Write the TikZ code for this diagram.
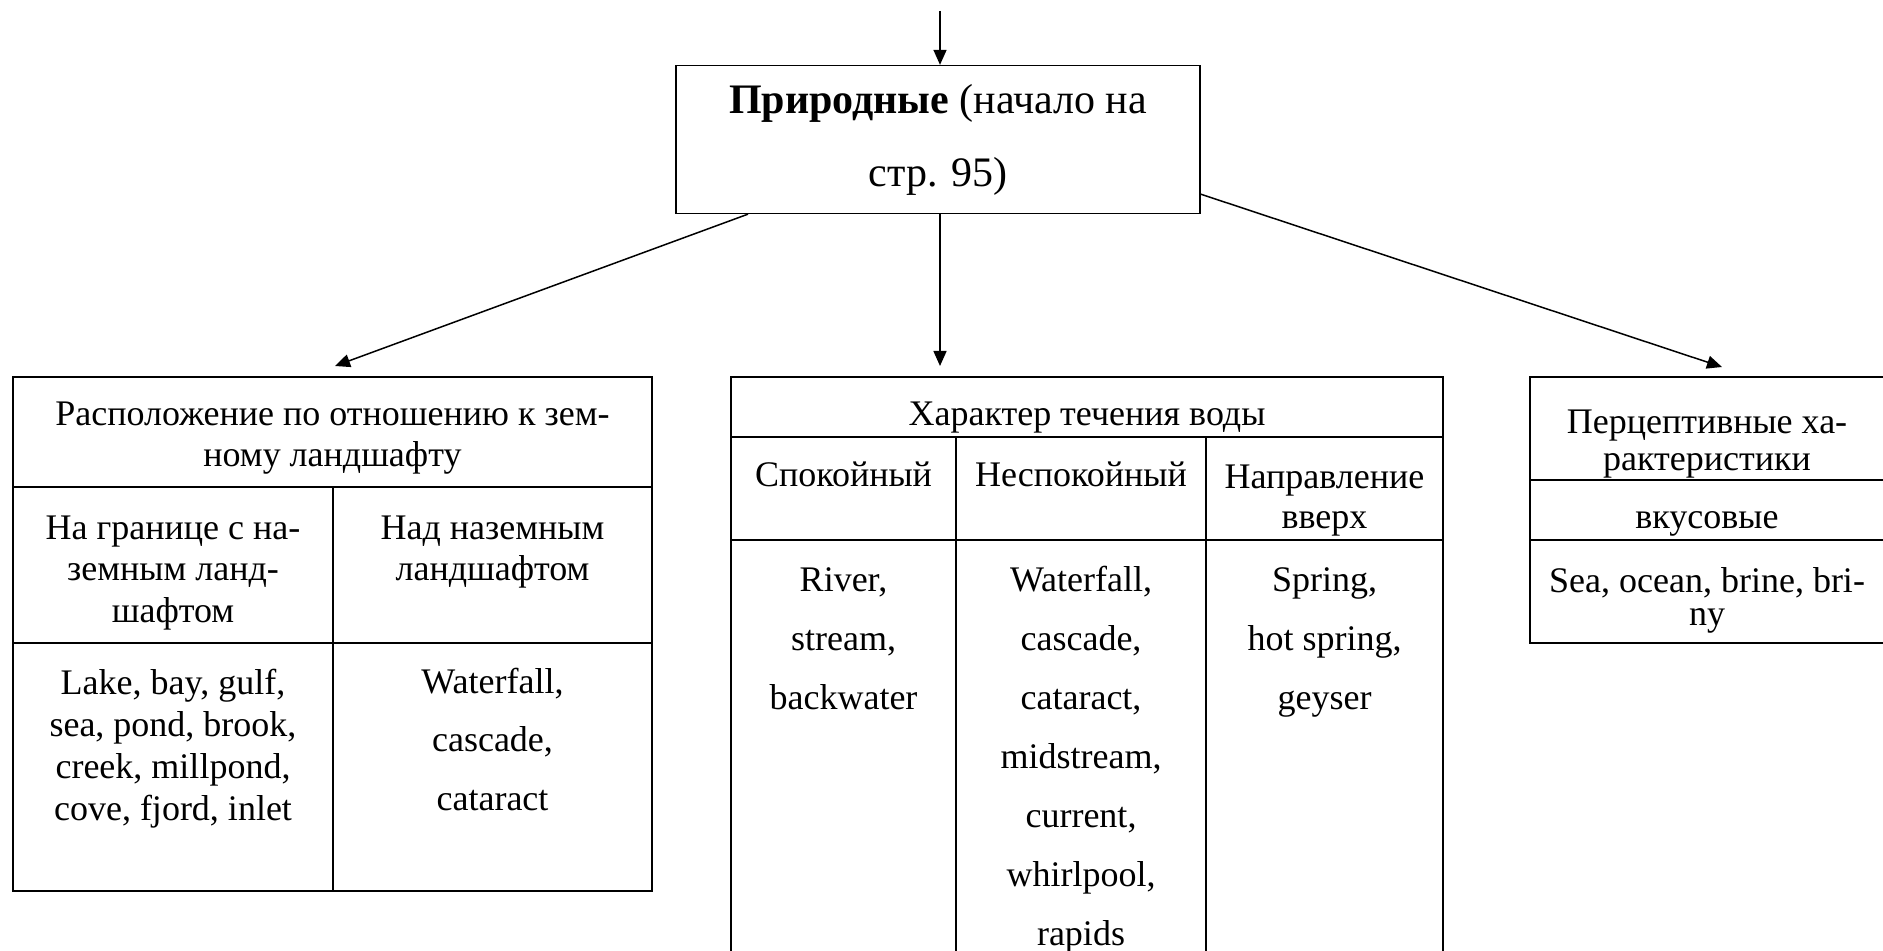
\documentclass[tikz,border=0pt]{standalone}
\usepackage{fontspec}
\setmainfont{Liberation Serif}
\usetikzlibrary{arrows.meta,calc,positioning}

\begin{document}
\begin{tikzpicture}[
      x=0.5pt, y=-0.5pt,
      box/.style={rectangle, draw=black, line width=0.65pt, minimum width=262pt, minimum height=74pt, align=center, inner sep=0pt, font=\fontsize{21}{36.5}\selectfont},
      frame/.style={draw=black, line width=1pt},
      cell/.style={anchor=base, inner sep=0pt, font=\fontsize{18}{21}\selectfont},
      arrow/.style={-{Triangle[length=7.5pt, width=6.5pt]}, line width=0.75pt},
    ]
    \useasboundingbox (0,0) rectangle (1883,951);
    \clip (0,0) rectangle (1883,951);
    % Top box with the incoming arrow
    \node [box] (natural) at (938,139.5) {\textbf{Природные} (начало на\\стр. 95)};
    \coordinate (entry) at (940,11);
    \draw [arrow] (entry) -- (entry |- natural.north);
    % Arrows down to the three tables
    \coordinate (locTip) at (335,366);
    \coordinate (flowTip) at (940,366);
    \coordinate (percTip) at (1722,367);
    \draw [arrow] ($(natural.south)+(-190,0)$) -- (locTip);
    \draw [arrow] (natural.south -| flowTip) -- (flowTip);
    \draw [arrow] ($(natural.south east)+(0,-20)$) -- (percTip);
    % Left table (position relative to land)
    \draw [frame] (13,377) rectangle (652,891);
    \draw [frame] (13,487) -- (652,487) (13,643) -- (652,643) (333,487) -- (333,891);
    \node [cell] (loc1) at (332.5,426) {Расположение по отношению к зем-};
    \node [cell] (loc2) at (332.5,467) {ному ландшафту};
    \node [cell] (border1) at (173,539) {На границе с на-};
    \node [cell] (border2) at (173,580) {земным ланд-};
    \node [cell] (border3) at (173,622) {шафтом};
    \node [cell] (above1) at (492.5,539) {Над наземным};
    \node [cell] (above2) at (492.5,580) {ландшафтом};
    \foreach \t [count=\i from 0] in {{Lake, bay, gulf,}, {sea, pond, brook,}, {creek, millpond,}, {cove, fjord, inlet}}
      \node [cell] (shore-\i) at (173,{694+42*\i}) {\t};
    \foreach \t [count=\i from 0] in {{Waterfall,}, {cascade,}, {cataract}}
      \node [cell] (over-\i) at (492.5,{693+58.5*\i}) {\t};
    % Middle table (character of water flow)
    \draw [frame] (731,377) rectangle (1443,975);
    \draw [frame] (731,437) -- (1443,437) (731,540) -- (1443,540) (956,437) -- (956,975) (1206,437) -- (1206,975);
    \node [cell] (flow) at (1087,426) {Характер течения воды};
    \node [cell] (calm) at (843.5,487) {Спокойный};
    \node [cell] (rough) at (1081,487) {Неспокойный};
    \node [cell] (up1) at (1324.5,488) {Направление};
    \node [cell] (up2) at (1324.5,529) {вверх};
    \foreach \t [count=\i from 0] in {{River,}, {stream,}, {backwater}}
      \node [cell] (calm-\i) at (843.5,{591+59*\i}) {\t};
    \foreach \t [count=\i from 0] in {{Waterfall,}, {cascade,}, {cataract,}, {midstream,}, {current,}, {whirlpool,}, {rapids}}
      \node [cell] (rough-\i) at (1081,{591+59*\i}) {\t};
    \foreach \t [count=\i from 0] in {{Spring,}, {hot spring,}, {geyser}}
      \node [cell] (up-\i) at (1324.5,{591+59*\i}) {\t};
    % Right table (perceptive features)
    \draw [frame] (1530,377) rectangle (1890,643);
    \draw [frame] (1530,480) -- (1890,480) (1530,540) -- (1890,540);
    \node [cell] (perc1) at (1707,434) {Перцептивные ха-};
    \node [cell] (perc2) at (1707,471) {рактеристики};
    \node [cell] (taste) at (1707,529) {вкусовые};
    \node [cell] (salt1) at (1707,592) {Sea, ocean, brine, bri-};
    \node [cell] (salt2) at (1707,625) {ny};
  \end{tikzpicture}
\end{document}
